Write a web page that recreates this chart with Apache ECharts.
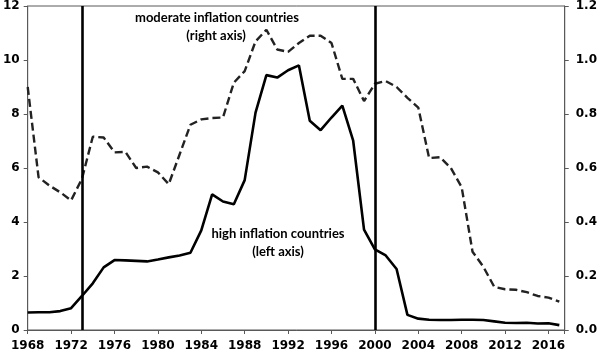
<!DOCTYPE html>
<html>
<head>
<meta charset="utf-8">
<script src="https://cdn.jsdelivr.net/npm/echarts@6/dist/echarts.min.js"></script>
<style>html,body{margin:0;padding:0;background:#fff}#c{width:600px;height:352px}</style>
</head>
<body>
<div id="c"></div>
<script>
var years = [1968,1969,1970,1971,1972,1973,1974,1975,1976,1977,1978,1979,1980,1981,1982,1983,1984,1985,1986,1987,1988,1989,1990,1991,1992,1993,1994,1995,1996,1997,1998,1999,2000,2001,2002,2003,2004,2005,2006,2007,2008,2009,2010,2011,2012,2013,2014,2015,2016,2017];
var highInflation = [0.65,0.66,0.66,0.70,0.81,1.26,1.73,2.32,2.59,2.58,2.56,2.54,2.61,2.69,2.76,2.86,3.69,5.02,4.76,4.66,5.55,8.05,9.44,9.35,9.62,9.80,7.75,7.40,7.87,8.31,7.01,3.72,2.99,2.76,2.26,0.56,0.42,0.38,0.37,0.37,0.38,0.38,0.37,0.32,0.27,0.26,0.27,0.24,0.25,0.18];
var moderateInflation = [0.90,0.566,0.535,0.51,0.48,0.56,0.716,0.713,0.658,0.66,0.60,0.605,0.584,0.54,0.65,0.76,0.78,0.785,0.787,0.916,0.959,1.069,1.112,1.039,1.03,1.063,1.09,1.09,1.063,0.93,0.93,0.848,0.912,0.922,0.90,0.86,0.824,0.637,0.64,0.60,0.529,0.29,0.234,0.16,0.151,0.149,0.14,0.126,0.12,0.105];
var leftTicks = {min:0, max:12, interval:2};
var rightTicks = {min:0, max:1.2, interval:0.2};
var xTicks = {min:1968, max:2017.5, interval:4};
var regimeBreaks = [1973, 2000];
var labelHigh = ['high inflation countries', '(left axis)'];
var labelModerate = ['moderate inflation countries', '(right axis)'];

function pairs(vals){ return years.map(function(y,i){ return [y, vals[i]]; }); }

var axisColor = '#595959';
var labelFont = {color:'#000', fontFamily:'DejaVu Sans', fontWeight:'bold', fontSize:12};
var noteFont = {fontFamily:'Lato', fontWeight:'bold', fontSize:13, fill:'#000', textAlign:'center', textVerticalAlign:'middle'};

var chart = echarts.init(document.getElementById('c'));
chart.setOption({
  animation:false,
  grid:{left:27, right:31, top:4, bottom:22, show:true, borderColor:axisColor, borderWidth:1},
  xAxis:{type:'value', min:xTicks.min, max:xTicks.max, interval:xTicks.interval,
    axisLine:{lineStyle:{color:axisColor,width:1}}, axisTick:{show:true, length:4, lineStyle:{color:axisColor}},
    splitLine:{show:false},
    axisLabel:Object.assign({margin:10, formatter:function(v){ return (v%4===0)?String(v):''; }}, labelFont)},
  yAxis:[
    {type:'value', min:leftTicks.min, max:leftTicks.max, interval:leftTicks.interval, position:'left',
      axisLine:{show:true, lineStyle:{color:axisColor}}, axisTick:{show:true, length:4, lineStyle:{color:axisColor}},
      splitLine:{show:false}, axisLabel:Object.assign({margin:8}, labelFont)},
    {type:'value', min:rightTicks.min, max:rightTicks.max, interval:rightTicks.interval, position:'right',
      axisLine:{show:true, lineStyle:{color:axisColor}}, axisTick:{show:true, length:4, lineStyle:{color:axisColor}},
      splitLine:{show:false}, axisLabel:Object.assign({margin:11, formatter:function(v){return v.toFixed(1);}}, labelFont)}
  ],
  series:[
    {type:'line', yAxisIndex:0, data:pairs(highInflation), symbol:'none', smooth:false,
      lineStyle:{color:'#000', width:2.6}, z:3,
      markLine:{silent:true, symbol:['none','none'], label:{show:false},
        lineStyle:{color:'#000', width:2.6, type:'solid'},
        data:regimeBreaks.map(function(y){ return {xAxis:y}; })}},
    {type:'line', yAxisIndex:1, data:pairs(moderateInflation), symbol:'none', smooth:false,
      lineStyle:{color:'#222', width:2.4, type:[8,4]}, z:2}
  ],
  graphic:[
    {type:'text', x:217, y:18, style:Object.assign({text:labelModerate[0]}, noteFont)},
    {type:'text', x:216, y:36, style:Object.assign({text:labelModerate[1]}, noteFont)},
    {type:'text', x:278, y:234, style:Object.assign({text:labelHigh[0]}, noteFont)},
    {type:'text', x:278, y:252, style:Object.assign({text:labelHigh[1]}, noteFont)}
  ]
});
</script>
</body>
</html>
